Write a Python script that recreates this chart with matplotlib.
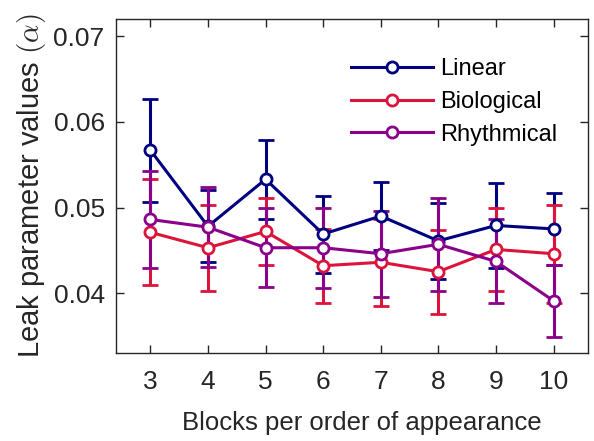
import matplotlib
matplotlib.use('Agg')
import matplotlib.pyplot as plt

plt.rcParams['font.family'] = ['Liberation Sans', 'DejaVu Sans']
plt.rcParams['mathtext.fontset'] = 'cm'

blocks = [3, 4, 5, 6, 7, 8, 9, 10]

linear = [0.0567, 0.0478, 0.0533, 0.0469, 0.0490, 0.0461, 0.0479, 0.0475]
linear_err = [0.0060, 0.0042, 0.0046, 0.0045, 0.0040, 0.0044, 0.0050, 0.0042]

biological = [0.0471, 0.0453, 0.0472, 0.0432, 0.0436, 0.0425, 0.0451, 0.0446]
biological_err = [0.0062, 0.0050, 0.0039, 0.0043, 0.0051, 0.0049, 0.0048, 0.0057]

rhythmical = [0.0486, 0.0477, 0.0453, 0.0453, 0.0446, 0.0457, 0.0437, 0.0391]
rhythmical_err = [0.0057, 0.0047, 0.0046, 0.0047, 0.0050, 0.0054, 0.0049, 0.0042]

series = [
    ('Linear', linear, linear_err, '#000080'),
    ('Biological', biological, biological_err, '#DC143C'),
    ('Rhythmical', rhythmical, rhythmical_err, '#8B008B'),
]

fig = plt.figure(figsize=(5.94, 4.41), dpi=100)
ax = fig.add_axes([0.195, 0.1995, 0.795, 0.757])

handles = []
for name, vals, errs, col in series:
    eb = ax.errorbar(blocks, vals, yerr=errs, color=col, lw=2.2, elinewidth=2.2,
                     capsize=6, capthick=2.2, marker='o', markersize=8,
                     markerfacecolor='white', markeredgecolor=col,
                     markeredgewidth=2, label=name)
    handles.append(eb[0])

ax.set_xlim(2.4, 10.6)
ax.set_ylim(0.033, 0.072)
ax.set_xticks(blocks)
ax.set_yticks([0.04, 0.05, 0.06, 0.07])
ax.set_yticklabels(['0.04', '0.05', '0.06', '0.07'])

ax.tick_params(direction='in', top=True, right=True, length=6, width=1,
               labelsize=19, colors='#262626')
ax.tick_params(axis='x', pad=12)
ax.tick_params(axis='y', pad=8)
for s in ax.spines.values():
    s.set_color('#262626')
    s.set_linewidth(1)

ax.set_xlabel('Blocks per order of appearance', fontsize=18.5, color='#262626', labelpad=12)
ax.xaxis.set_label_coords(0.52, -0.175)
ax.set_ylabel(r'Leak parameter values $(\alpha)$', fontsize=21, color='#262626', labelpad=4)

ax.legend(handles=handles, labels=[s[0] for s in series], loc='upper left',
          bbox_to_anchor=(0.452, 0.946), frameon=False,
          fontsize=17, handlelength=3.5, handletextpad=0.3, labelspacing=0.45)

fig.savefig('out.png', dpi=100)
